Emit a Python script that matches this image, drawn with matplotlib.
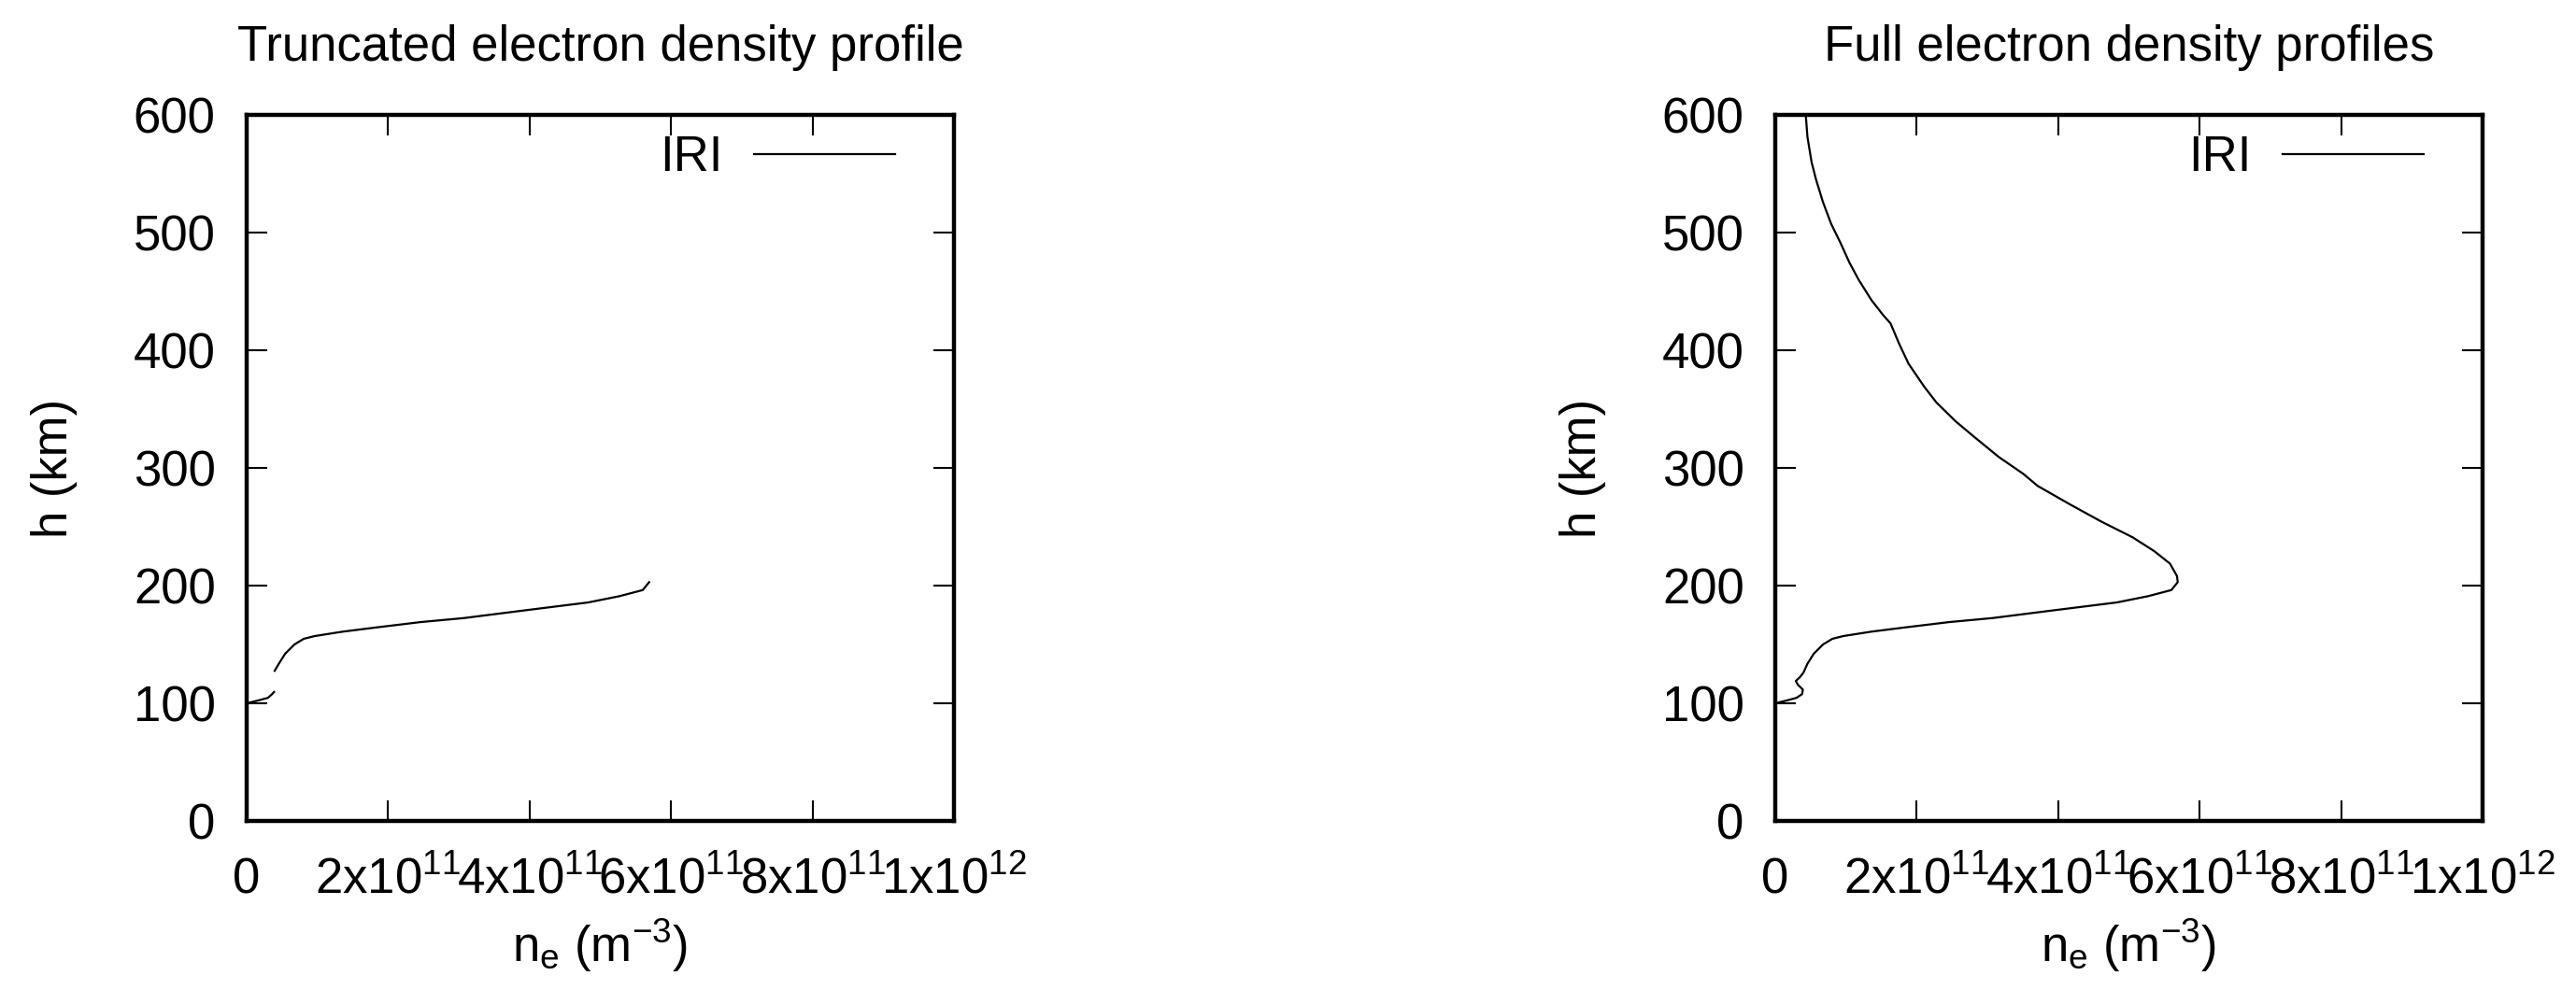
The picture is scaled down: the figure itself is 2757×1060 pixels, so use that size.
import numpy as np
import matplotlib
matplotlib.use("Agg")
import matplotlib.pyplot as plt

plt.rcParams["font.family"] = ["Liberation Sans", "DejaVu Sans"]
plt.rcParams["mathtext.fontset"] = "custom"
plt.rcParams["mathtext.rm"] = "Liberation Sans"
plt.rcParams["mathtext.default"] = "regular"

# IRI electron density profile, ne in units of 1e11 m^-3, h in km
h_full = [100, 102.5, 104.6, 107.8, 111.7, 115.7, 118.9, 122.3, 126.2, 133.6,
          142.1, 150, 154.8, 157.1, 160.8, 164.5, 169, 172.4, 179.1, 185.7,
          191, 196.2, 202.9, 208.1, 218.7, 229.2, 241.1, 254.4, 268.9, 284.7,
          294.8, 309.3, 326.5, 339.6, 355.5, 368.7, 376.6, 388.5, 405.7, 422.8,
          429.5, 442.6, 459.8, 474.3, 491.5, 507.4, 525.8, 545.6, 560, 581.3,
          598.5, 610]
ne_full = [0.0, 0.17, 0.30, 0.38, 0.39, 0.32, 0.29, 0.35, 0.40, 0.455,
           0.544, 0.676, 0.808, 0.961, 1.35, 1.84, 2.46, 3.07, 3.95, 4.83,
           5.27, 5.60, 5.69, 5.68, 5.58, 5.36, 5.05, 4.61, 4.17, 3.71,
           3.51, 3.16, 2.81, 2.55, 2.28, 2.11, 2.02, 1.885, 1.75, 1.63,
           1.53, 1.36, 1.18, 1.05, 0.92, 0.79, 0.675, 0.574, 0.513, 0.455,
           0.433, 0.42]

# truncated profile: bottom side only, with a gap between ~110 and ~127 km
h_trunc = [100, 102.5, 104.6, 107.8, 109.6, np.nan, 127.6, 133.6,
           142.1, 150, 154.8, 157.1, 160.8, 164.5, 169, 172.4, 179.1, 185.7,
           191, 196.2, 202.9]
ne_trunc = [0.0, 0.17, 0.30, 0.36, 0.387, np.nan, 0.396, 0.455,
            0.544, 0.676, 0.808, 0.961, 1.35, 1.84, 2.46, 3.07, 3.95, 4.83,
            5.27, 5.60, 5.69]

x_ticks = [0, 2e11, 4e11, 6e11, 8e11, 1e12]
x_ticklabels = ["0", r"2x10$^{11}$", r"4x10$^{11}$", r"6x10$^{11}$",
                r"8x10$^{11}$", r"1x10$^{12}$"]
y_ticks = [0, 100, 200, 300, 400, 500, 600]

FS = 38

fig = plt.figure(figsize=(27.57, 10.6), dpi=100)
ax1 = fig.add_axes([264 / 2757, 181 / 1060, 757 / 2757, 756 / 1060])
ax2 = fig.add_axes([1900 / 2757, 181 / 1060, 757 / 2757, 756 / 1060])


def style_axes(ax, title):
    ax.set_xlim(0, 1e12)
    ax.set_ylim(0, 600)
    ax.set_xticks(x_ticks, x_ticklabels)
    ax.set_yticks(y_ticks)
    ax.tick_params(axis="both", direction="in", length=16, width=1.5,
                   top=True, right=True, labelsize=FS)
    ax.tick_params(axis="y", pad=24)
    ax.tick_params(axis="x", pad=56)
    for lab in ax.get_xticklabels():
        lab.set_va("baseline")
    for sp in ax.spines.values():
        sp.set_linewidth(3.2)
    ax.set_title(title, fontsize=FS, pad=42)
    ax.set_xlabel(r"n$_{e}$ (m$^{-3}$)", fontsize=FS, va="baseline")
    ax.xaxis.set_label_coords(0.5, -0.2)
    ax.set_ylabel("h (km)", fontsize=FS, va="baseline")
    ax.yaxis.set_label_coords(-0.2536, 0.5)
    ax.legend(loc="upper right", frameon=False, markerfirst=False,
              fontsize=FS, handlelength=2.86, handletextpad=0.64,
              borderpad=0, borderaxespad=0, bbox_to_anchor=(0.917, 0.972))


ax1.plot(np.array(ne_trunc) * 1e11, h_trunc, color="black", linewidth=1.6, label="IRI")
style_axes(ax1, "Truncated electron density profile")

ax2.plot(np.array(ne_full) * 1e11, h_full, color="black", linewidth=1.6, label="IRI")
style_axes(ax2, "Full electron density profiles")

fig.savefig("out.png", dpi=100)
